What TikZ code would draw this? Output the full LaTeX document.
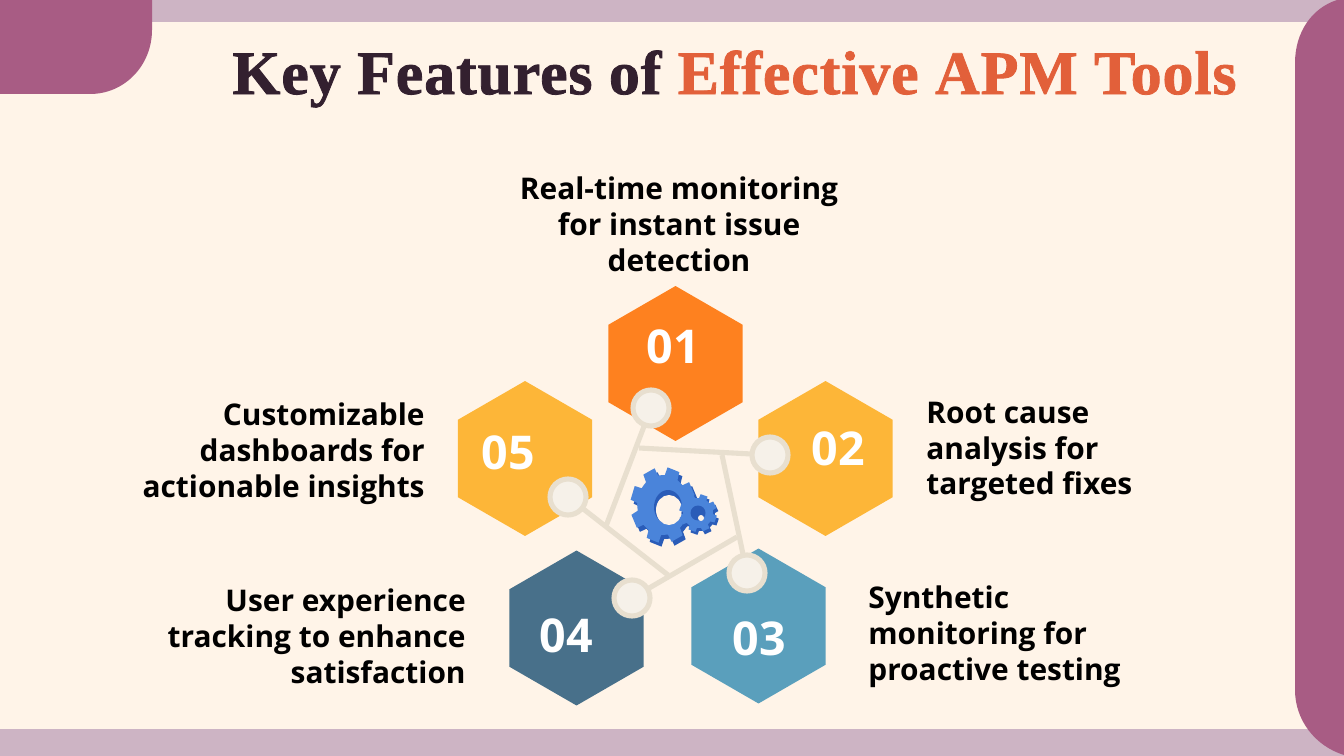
\documentclass[tikz,border=0pt]{standalone}
\usepackage{fontspec}
\setmainfont{Open Sans}
\newfontfamily\titlefont{Liberation Serif}
\usepackage{xcolor}
\definecolor{cream}{HTML}{FFF4E8}
\definecolor{plum}{HTML}{A85C84}
\definecolor{lilac}{HTML}{CDB4C4}
\definecolor{ink}{HTML}{33202F}
\definecolor{coral}{HTML}{E2603A}
\definecolor{hexorange}{HTML}{FE811F}
\definecolor{hexamber}{HTML}{FDB638}
\definecolor{hexteal}{HTML}{5A9FBC}
\definecolor{hexnavy}{HTML}{48708A}
\definecolor{ringline}{HTML}{E8DFCF}
\definecolor{ringfill}{HTML}{F6F1E9}
\definecolor{gearfront}{HTML}{4A84DA}
\definecolor{gearback}{HTML}{2A5CB8}
\usepackage{tikz}
\usetikzlibrary{positioning,calc,shapes.geometric}
\tikzset{
	hexcell/.style={regular polygon,regular polygon sides=6,shape border rotate=30,minimum size=3.1cm,inner sep=0pt,outer sep=0pt},
	num/.style={text=white,font=\fontsize{26.5}{29}\selectfont\bfseries},
	feat/.style={text=black,font=\fontsize{17}{20.4}\selectfont\bfseries,inner sep=0pt},
	ring/.style={circle,draw=ringline,fill=ringfill,line width=2.9pt,minimum size=0.72cm,inner sep=0pt},
	link/.style={draw=ringline,line width=2.9pt}
}
% gear outline round the origin: outer radius, root radius
\newcommand{\gearpath}[2]{%
	(0:#2) foreach \t in {1,...,8} {
		-- ({(\t-1)*45+4}:#2)
		-- ({(\t-1)*45+8}:#1)
		-- ({(\t-1)*45+30}:#1)
		-- ({(\t-1)*45+34}:#2)
		-- ({\t*45}:#2)
	} -- cycle}
\begin{document}
\begin{tikzpicture}[x=0.02cm,y=-0.02cm]
	\useasboundingbox (0,0) rectangle (1344,756);
	% background
	\fill[cream] (0,0) rectangle (1344,756);
	\fill[lilac] (0,0) rectangle (1344,22);
	\fill[lilac] (0,729) rectangle (1344,756);
	\fill[plum] (0,0) -- (152,0) -- (152,30) .. controls (152,65) and (125,94) .. (90,94) -- (0,94) -- cycle;
	\fill[plum] (1344,0) -- (1337,0) .. controls (1312,8) and (1295,32) .. (1295,63) -- (1295,690) .. controls (1295,720) and (1315,746) .. (1344,755) -- cycle;
	% title
	\node[inner sep=0pt,anchor=west] (title) at (232,79) {\titlefont\fontsize{35.2}{38}\selectfont\bfseries\addfontfeature{LetterSpace=1.5,FakeBold=1.3}\textcolor{ink}{Key Features of} \textcolor{coral}{Effective APM Tools}};
	% hexagons
	\node[hexcell,fill=hexorange] (h1) at (675.5,363.5) {};
	\node[hexcell,fill=hexamber] (h2) at (825.5,458.5) {};
	\node[hexcell,fill=hexteal] (h3) at (758.5,626) {};
	\node[hexcell,fill=hexnavy] (h4) at (576.5,628) {};
	\node[hexcell,fill=hexamber] (h5) at (525,458.5) {};
	% numbers
	\node[num] (n1) at (673.5,347) {01};
	\node[num] (n2) at (838.5,449) {02};
	\node[num] (n3) at (759.5,639) {03};
	\node[num] (n4) at (566,636) {04};
	\node[num] (n5) at (508.5,453) {05};
	% pentagon ends
	\coordinate (e1) at (606,526);
	\coordinate (e2) at (639,448);
	\coordinate (e3) at (722,455);
	\coordinate (e4) at (737,537);
	\coordinate (e5) at (668,575);
	\coordinate (c1) at (651,408);
	\coordinate (c2) at (770,455);
	\coordinate (c3) at (747,573);
	\coordinate (c4) at (632,598);
	\coordinate (c5) at (568,497);
	\draw[link] (c1)--(e1);
	\draw[link] (c2)--(e2);
	\draw[link] (c3)--(e3);
	\draw[link] (c4)--(e4);
	\draw[link] (c5)--(e5);
	\node[ring] (r1) at (c1) {};
	\node[ring] (r2) at (c2) {};
	\node[ring] (r3) at (c3) {};
	\node[ring] (r4) at (c4) {};
	\node[ring] (r5) at (c5) {};
	% gears
	\begin{scope}[shift={(666,509)},xscale=0.86]
		\fill[gearback] \gearpath{38}{30};
	\end{scope}
	\begin{scope}[shift={(663,505)},xscale=0.86]
		\fill[gearfront] \gearpath{38}{30};
	\end{scope}
	\fill[gearback] (668,507) ellipse (14 and 17);
	\fill[cream] (669,510) ellipse (13 and 15);
	\begin{scope}[shift={(700,516)}]
		\fill[gearback] \gearpath{19}{15};
	\end{scope}
	\begin{scope}[shift={(698,513)}]
		\fill[gearfront] \gearpath{19}{15};
	\end{scope}
	\fill[gearback] (698,513) circle (7.5);
	\fill[cream] (701,518) circle (3);
	% labels
	\node[feat,align=center] (t1) at (679,224.5) {Real-time monitoring\\for instant issue\\detection};
	\node[feat,align=left,anchor=west] (t2) at (926,452) {Root cause\\analysis for\\targeted fixes};
	\node[feat,align=left,anchor=west] (t3) at (868,637) {Synthetic\\monitoring for\\proactive testing};
	\node[feat,align=right,anchor=east] (t4) at (466,636.5) {User experience\\tracking to enhance\\satisfaction};
	\node[feat,align=right,anchor=east] (t5) at (425,454) {Customizable\\dashboards for\\actionable insights};
\end{tikzpicture}
\end{document}
